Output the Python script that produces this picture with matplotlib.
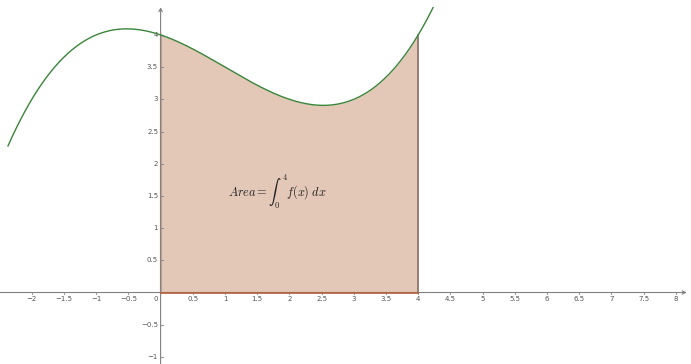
import numpy as np
import matplotlib.pyplot as plt

plt.rcParams['mathtext.fontset'] = 'cm'
plt.rcParams['axes.unicode_minus'] = True

# f(x) = x^3/12 - x^2/4 - x/3 + 4  (f(0)=4, f(4)=4, min near 2.53)
coeffs = [1 / 12, -1 / 4, -1 / 3, 4]
curve_domain = [-2.37, 4.23]
area_bounds = [0, 4]

xtick_vals = [-2, -1.5, -1, -0.5, 0, 0.5, 1, 1.5, 2, 2.5, 3, 3.5, 4,
              4.5, 5, 5.5, 6, 6.5, 7, 7.5, 8]
ytick_vals = [-1, -0.5, 0.5, 1, 1.5, 2, 2.5, 3, 3.5, 4]

fill_col = '#e3c8b8'
curve_col = '#3a853a'
axis_col = '#808080'


def fmt(v):
    s = ('%g' % v)
    return s.replace('-', '\u2212')


fig = plt.figure(figsize=(6.91, 3.64), dpi=100)
ax = fig.add_axes([0, 0, 1, 1])
ax.set_xlim(-2.494, 8.236)
ax.set_ylim(-1.110, 4.542)
ax.axis('off')

# shaded area under f between the bounds
xa = np.linspace(area_bounds[0], area_bounds[1], 400)
ya = np.polyval(coeffs, xa)
ax.fill_between(xa, ya, 0, color=fill_col, lw=0, zorder=1)
ax.plot([area_bounds[0]] * 2, [0, np.polyval(coeffs, area_bounds[0])],
        color='#cfa596', lw=1.6, zorder=2)
ax.plot([area_bounds[1]] * 2, [0, np.polyval(coeffs, area_bounds[1])],
        color='#8a7068', lw=1.2, zorder=2)

# axes with arrows
ax.annotate('', xy=(8.17, 0), xytext=(-2.494, 0),
            arrowprops=dict(arrowstyle='->', color=axis_col, lw=0.8,
                            shrinkA=0, shrinkB=0, mutation_scale=6), zorder=3)
ax.annotate('', xy=(0, 4.43), xytext=(0, -1.110),
            arrowprops=dict(arrowstyle='->', color=axis_col, lw=0.8,
                            shrinkA=0, shrinkB=0, mutation_scale=6), zorder=3)
ax.plot(area_bounds, [0, 0], color='#b5603a', lw=1.2, zorder=4)

for xt in xtick_vals:
    if xt != 0:
        ax.plot([xt, xt], [0, -0.025], color=axis_col, lw=0.6, zorder=3)
        ax.text(xt, -0.06, fmt(xt), ha='center', va='top', fontsize=5,
                color='#555555')
    else:
        ax.text(-0.08, -0.06, '0', ha='center', va='top', fontsize=5,
                color='#555555')
for yt in ytick_vals:
    ax.plot([0, 0.04], [yt, yt], color=axis_col, lw=0.6, zorder=3)
    ax.text(-0.04, yt, fmt(yt), ha='right', va='center', fontsize=5,
            color='#555555')

# the function curve
xc = np.linspace(curve_domain[0], curve_domain[1], 600)
ax.plot(xc, np.polyval(coeffs, xc), color=curve_col, lw=1.0, zorder=5)

ax.text(1.81, 1.57, r'$Area=\int_0^4 f(x)\;dx$', ha='center', va='center',
        fontsize=8.8, color='#222222', zorder=6)

fig.savefig('out.png', dpi=100)
